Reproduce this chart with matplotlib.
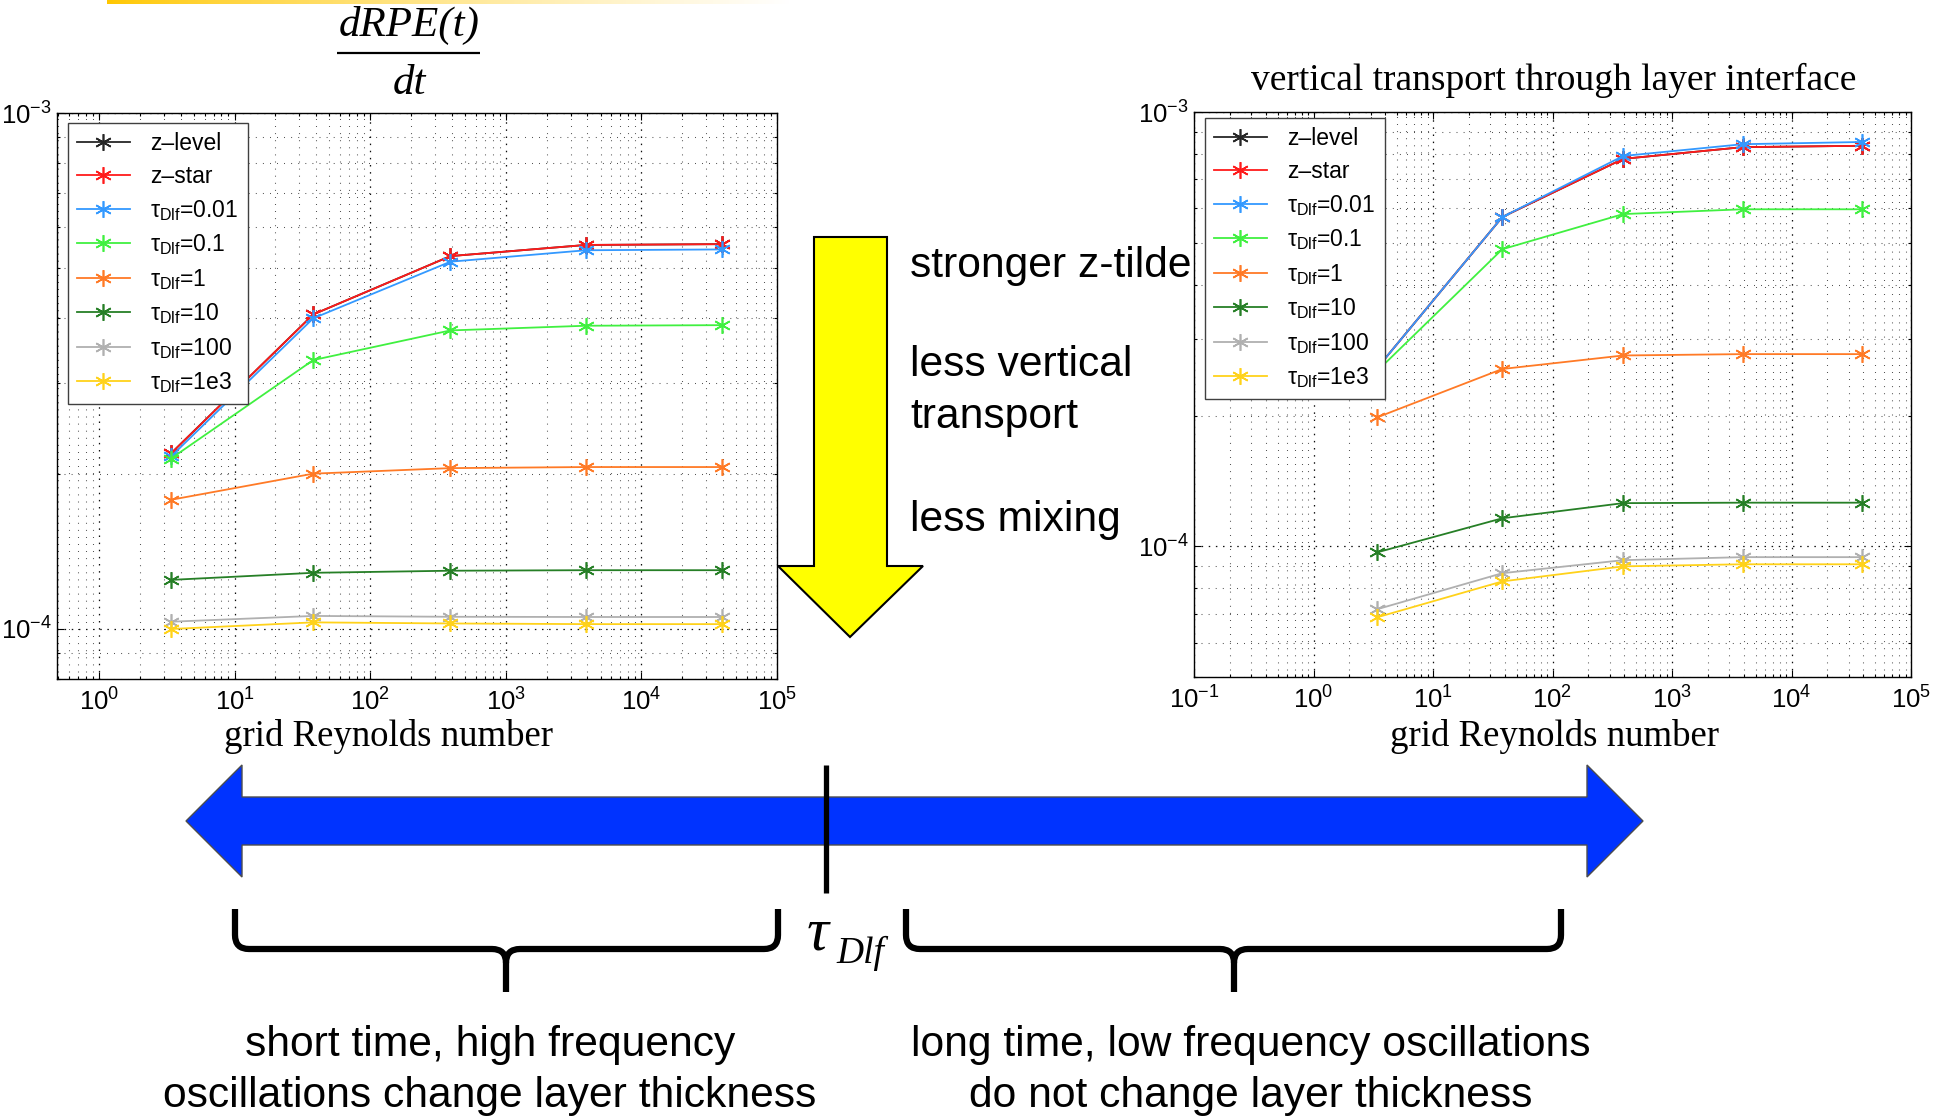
#!/usr/bin/env python3
"""
Spurious mixing vs grid Reynolds number for the z-tilde coordinate.

Left panel : rate of change of reference potential energy, dRPE/dt
Right panel: vertical transport through a layer interface
One line per vertical coordinate (z-level, z-star, z-tilde with several
high-frequency filter timescales tau_Dlf). The annotation layer underneath
sketches the timescale separation set by tau_Dlf.
"""

import numpy as np
import matplotlib.pyplot as plt
from matplotlib.patches import Polygon, PathPatch
from matplotlib.path import Path
from matplotlib.ticker import LogLocator, NullFormatter, LogFormatterMathtext

plt.rcParams.update({
    "font.family": ["Liberation Sans", "DejaVu Sans"],
    "mathtext.fontset": "custom",
    "mathtext.rm": "Liberation Sans",
    "mathtext.it": "Liberation Sans:italic",
    "mathtext.bf": "Liberation Sans:bold",
})

# --------------------------------------------------------------------------- #
# Data
# --------------------------------------------------------------------------- #
GRID_RE = [3.4, 38, 390, 3900, 39000]

LABELS = ["z–level", "z–star",
          r"τ$_{\mathrm{Dlf}}$=0.01", r"τ$_{\mathrm{Dlf}}$=0.1",
          r"τ$_{\mathrm{Dlf}}$=1", r"τ$_{\mathrm{Dlf}}$=10",
          r"τ$_{\mathrm{Dlf}}$=100", r"τ$_{\mathrm{Dlf}}$=1e3"]

# dRPE/dt
drpe_zlevel = [2.19e-4, 4.07e-4, 5.28e-4, 5.55e-4, 5.57e-4]
drpe_zstar = [2.19e-4, 4.07e-4, 5.28e-4, 5.55e-4, 5.57e-4]
drpe_t001 = [2.16e-4, 4.00e-4, 5.15e-4, 5.42e-4, 5.44e-4]
drpe_t01 = [2.14e-4, 3.32e-4, 3.79e-4, 3.87e-4, 3.88e-4]
drpe_t1 = [1.78e-4, 2.00e-4, 2.05e-4, 2.06e-4, 2.06e-4]
drpe_t10 = [1.245e-4, 1.285e-4, 1.297e-4, 1.30e-4, 1.30e-4]
drpe_t100 = [1.033e-4, 1.060e-4, 1.056e-4, 1.055e-4, 1.055e-4]
drpe_t1e3 = [1.000e-4, 1.030e-4, 1.025e-4, 1.022e-4, 1.022e-4]

# vertical transport through layer interface
vt_zlevel = [2.57e-4, 5.73e-4, 7.80e-4, 8.30e-4, 8.36e-4]
vt_zstar = [2.57e-4, 5.73e-4, 7.80e-4, 8.30e-4, 8.36e-4]
vt_t001 = [2.57e-4, 5.73e-4, 7.92e-4, 8.43e-4, 8.53e-4]
vt_t01 = [2.53e-4, 4.83e-4, 5.82e-4, 5.97e-4, 5.97e-4]
vt_t1 = [1.98e-4, 2.56e-4, 2.75e-4, 2.77e-4, 2.77e-4]
vt_t10 = [9.68e-5, 1.16e-4, 1.257e-4, 1.26e-4, 1.26e-4]
vt_t100 = [7.16e-5, 8.67e-5, 9.29e-5, 9.44e-5, 9.44e-5]
vt_t1e3 = [6.86e-5, 8.30e-5, 8.99e-5, 9.09e-5, 9.09e-5]

DRPE = [drpe_zlevel, drpe_zstar, drpe_t001, drpe_t01,
        drpe_t1, drpe_t10, drpe_t100, drpe_t1e3]
VT = [vt_zlevel, vt_zstar, vt_t001, vt_t01, vt_t1, vt_t10, vt_t100, vt_t1e3]

COLORS = ["0.15", "#ff1a1a", "#3399ff", "#40f040",
          "#ff7a26", "#267f26", "#b0b0b0", "#ffd21a"]

# asterisk marker, like matlab '*'
ASTERISK = (6, 2, 0)


# --------------------------------------------------------------------------- #
# Panels
# --------------------------------------------------------------------------- #
def style_log_axes(ax, xlim, ylim):
    ax.set_xscale("log")
    ax.set_yscale("log")
    ax.set_xlim(*xlim)
    ax.set_ylim(*ylim)
    for axis in (ax.xaxis, ax.yaxis):
        axis.set_major_locator(LogLocator(base=10, numticks=20))
        axis.set_minor_locator(LogLocator(base=10, subs=np.arange(2, 10), numticks=20))
        axis.set_major_formatter(LogFormatterMathtext())
        axis.set_minor_formatter(NullFormatter())
    ax.tick_params(which="both", direction="in", top=True, right=True,
                   labelsize=18.5, width=0.8)
    ax.tick_params(which="major", length=5)
    ax.tick_params(which="minor", length=2.5)
    ax.tick_params(axis="x", which="major", pad=7)
    ax.tick_params(axis="y", which="major", pad=4)
    ax.grid(True, which="major", color="0.05", lw=0.9, ls=(0, (1.2, 4.5)))
    ax.grid(True, which="minor", color="0.2", lw=0.75, ls=(0, (0.8, 6)))
    for sp in ax.spines.values():
        sp.set_linewidth(1.0)


def plot_panel(ax, series, legend_anchor):
    for vals, color, label in zip(series, COLORS, LABELS):
        ax.plot(GRID_RE, vals, color=color, lw=1.3, marker=ASTERISK,
                markersize=12, markeredgewidth=1.2, label=label)
    leg = ax.legend(loc="upper left", bbox_to_anchor=legend_anchor,
                    borderaxespad=0, fontsize=16.5, numpoints=1,
                    handlelength=2.3, handletextpad=0.9, labelspacing=0.42,
                    borderpad=0.4, fancybox=False, framealpha=1)
    leg.get_frame().set_edgecolor("0.25")
    leg.get_frame().set_linewidth(1.0)


W, H = 1942, 1117
fig = plt.figure(figsize=(W / 100, H / 100), dpi=100)

ax_l = fig.add_axes([57 / W, 1 - 679 / H, 720 / W, 566 / H])
style_log_axes(ax_l, (0.49, 1e5), (8e-5, 1e-3))
plot_panel(ax_l, DRPE, (0.015, 0.982))

ax_r = fig.add_axes([1194 / W, 1 - 677 / H, 717 / W, 565 / H])
style_log_axes(ax_r, (0.1, 1e5), (5e-5, 1e-3))
plot_panel(ax_r, VT, (0.015, 0.989))

# --------------------------------------------------------------------------- #
# Annotation layer (pixel coordinates, y down)
# --------------------------------------------------------------------------- #
ov = fig.add_axes([0, 0, 1, 1], zorder=5)

# faded accent line along the top edge
grad = np.linspace(0, 1, 256) ** 0.8
gold = np.array([1.0, 0.78, 0.0])
rgb = gold[None, :] * (1 - grad[:, None]) + np.ones(3)[None, :] * grad[:, None]
ov.imshow(rgb[None, :, :], extent=(107, 790, 4, 0), aspect="auto", zorder=1)

ov.set_xlim(0, W)
ov.set_ylim(H, 0)
ov.axis("off")

serif = dict(family=["Liberation Serif", "DejaVu Serif"])
sans = dict(family=["Liberation Sans", "DejaVu Sans"])
BIG = 30.7

# panel titles and axis labels
ov.text(409, 25, "dRPE(t)", ha="center", va="center", size=31, style="italic", **serif)
ov.plot([337, 480], [53, 53], color="k", lw=1.6, solid_capstyle="butt")
ov.text(409, 84, "dt", ha="center", va="center", size=31, style="italic", **serif)
ov.text(1554, 80, "vertical transport through layer interface",
        ha="center", va="center", size=27, **serif)
ov.text(389, 737, "grid Reynolds number", ha="center", va="center", size=26.5, **serif)
ov.text(1554, 737, "grid Reynolds number", ha="center", va="center", size=26.5, **serif)

# yellow downward arrow with labels
ov.add_patch(Polygon([(814, 237), (887, 237), (887, 566), (923, 566),
                      (850, 637), (778, 566), (814, 566)],
                     closed=True, facecolor="#ffff00", edgecolor="k", lw=1.5))
ov.text(910, 266, "stronger z-tilde", ha="left", va="center", size=BIG, **sans)
ov.text(910, 365, "less vertical", ha="left", va="center", size=BIG, **sans)
ov.text(910, 417, "transport", ha="left", va="center", size=BIG, **sans)
ov.text(910, 520, "less mixing", ha="left", va="center", size=BIG, **sans)

# blue double arrow (timescale axis) with the tau_Dlf marker
ov.add_patch(Polygon([(186, 821), (242, 765), (242, 797), (1587, 797),
                      (1587, 765), (1643, 821), (1587, 877), (1587, 845),
                      (242, 845), (242, 877)],
                     closed=True, facecolor="#0033ff", edgecolor="0.3", lw=1.0))
ov.plot([826, 826], [765, 893], color="k", lw=3.8, solid_capstyle="butt")
ov.text(818, 935, "τ", ha="center", va="center", size=44, style="italic", **serif)
ov.text(836, 953, "Dlf", ha="left", va="center", size=27, style="italic", **serif)


def brace(x0, x1, xc, top=909, hy=949, tip=992, r=14):
    verts = [(x0, top), (x0, hy - r), (x0, hy), (x0 + r, hy),
             (xc - r, hy), (xc, hy), (xc, hy + r), (xc, tip),
             (xc, hy + r), (xc, hy), (xc + r, hy),
             (x1 - r, hy), (x1, hy), (x1, hy - r), (x1, top)]
    codes = [Path.MOVETO, Path.LINETO, Path.CURVE3, Path.CURVE3,
             Path.LINETO, Path.CURVE3, Path.CURVE3, Path.LINETO,
             Path.MOVETO, Path.CURVE3, Path.CURVE3,
             Path.LINETO, Path.CURVE3, Path.CURVE3, Path.LINETO]
    ov.add_patch(PathPatch(Path(verts, codes), facecolor="none",
                           edgecolor="k", lw=4.5, capstyle="butt", joinstyle="round"))


brace(235, 778, 506)
brace(906, 1561, 1234)

ov.text(490, 1045, "short time, high frequency", ha="center", va="center", size=BIG, **sans)
ov.text(490, 1096, "oscillations change layer thickness", ha="center", va="center",
        size=BIG, **sans)
ov.text(1251, 1045, "long time, low frequency oscillations", ha="center", va="center",
        size=BIG, **sans)
ov.text(1251, 1096, "do not change layer thickness", ha="center", va="center",
        size=BIG, **sans)

fig.savefig("out.png", dpi=100)
